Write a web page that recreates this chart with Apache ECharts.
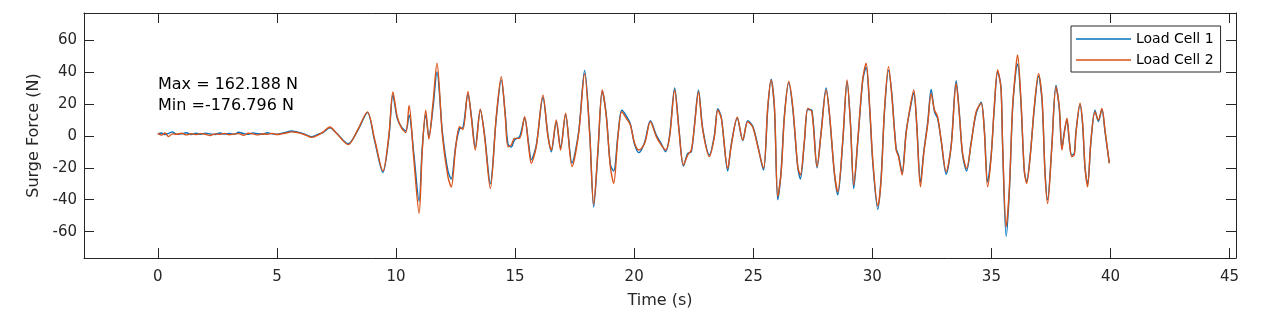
<!DOCTYPE html>
<html>
<head>
<meta charset="utf-8">
<script src="https://cdn.jsdelivr.net/npm/echarts@6/dist/echarts.min.js"></script>
<style>
html,body{margin:0;padding:0;background:#fff;}
#chart{width:1270px;height:320px;}
</style>
</head>
<body>
<div id="chart"></div>
<script>
// Time (s)
const timeS = [
  0,0.15,0.3,0.45,0.6,0.8,1.0,1.2,1.4,1.6,
  1.8,2.0,2.2,2.4,2.6,2.8,3.0,3.2,3.4,3.6,
  3.8,4.0,4.2,4.4,4.6,4.8,5.0,5.2,5.4,5.6,
  5.8,6.0,6.2,6.45,6.7,6.95,7.22,7.5,7.99,8.4,
  8.8,9.1,9.45,9.7,9.87,10.05,10.23,10.41,10.55,10.74,
  10.97,11.1,11.25,11.38,11.55,11.72,11.95,12.18,12.32,12.5,
  12.67,12.81,13.02,13.16,13.33,13.54,13.72,13.96,14.21,14.42,
  14.59,14.70,14.84,14.98,15.19,15.40,15.57,15.68,15.89,16.17,
  16.38,16.52,16.73,16.91,17.12,17.39,17.67,17.92,18.13,18.30,
  18.48,18.66,18.83,19.00,19.14,19.32,19.48,19.67,19.84,20.02,
  20.20,20.44,20.68,20.93,21.14,21.32,21.49,21.70,21.88,22.07,
  22.25,22.40,22.53,22.70,22.88,23.16,23.37,23.51,23.66,23.93,
  24.07,24.33,24.56,24.77,24.98,25.19,25.43,25.61,25.75,25.89,
  26.03,26.17,26.31,26.49,26.66,26.87,26.98,27.15,27.29,27.46,
  27.68,27.85,28.06,28.20,28.41,28.55,28.76,28.94,29.08,29.22,
  29.39,29.60,29.74,29.88,30.02,30.23,30.37,30.51,30.68,30.81,
  31.00,31.10,31.25,31.42,31.59,31.74,31.86,32.02,32.16,32.33,
  32.47,32.61,32.74,32.89,33.10,33.31,33.52,33.65,33.79,33.96,
  34.15,34.36,34.57,34.70,34.84,34.99,35.12,35.26,35.40,35.47,
  35.62,35.75,35.89,36.03,36.10,36.24,36.38,36.48,36.63,36.80,
  36.98,37.13,37.25,37.36,37.53,37.71,37.85,37.96,38.06,38.17,
  38.27,38.37,38.48,38.55,38.72,38.83,38.93,39.04,39.18,39.35,
  39.49,39.64,39.77,39.95
];

// Load Cell 1 surge force (N)
const loadCell1 = [
  1.0,1.8,0.8,1.5,2.5,0.9,1.2,1.9,0.8,1.6,
  1.0,1.7,1.2,0.8,1.8,1.1,1.5,0.9,2.2,1.4,
  1.0,1.8,1.3,1.0,1.9,1.2,1.0,1.6,2.2,3.0,
  2.6,1.8,0.8,-0.5,0.8,2.2,5.0,1.8,-5.0,3.5,
  14.5,-3,-23,-1,25.5,11,5.5,3,13,-10,
  -41,-8,13,-0.5,17,40,2,-22,-27,-7,
  4.5,5,26,13,-7,16,0.5,-30,11,35,
  13,-5,-7,-2.5,-0.5,11,-5,-15,-6,24,
  0.5,-10,8.5,-7.5,13,-17,2.5,41,3,-44.5,
  -10,28,13,-18,-22,0.5,16,12.5,7.5,-5.5,
  -10.5,-4,9.5,0.5,-5,-10,0.5,30,4.5,-19,
  -11,-10,6.5,28.5,4.5,-12,0.5,17,11.5,-22,
  -6,11,-3,9.5,6,-6,-21.5,17,35.5,17,
  -40,-22,13,33,17,-20,-27,-3.5,16.5,16,
  -20,2.5,30,13,-24,-37,-3.5,34,8.5,-33,
  -3.5,35,43,19,-17,-46,-26,15,41,27.5,
  -8,-12,-23,2.5,17,27,8.5,-29,-10,9,
  29,15,11,-3,-24,-6,34.5,15,-12,-22,
  -4,14,21,4.5,-29,-12,17,40,31,-6,
  -63,-36,17,41,45,21,-22,-28.5,-12,17,
  37.5,21,-22,-40,-8,31.5,17,-8,2.5,10,
  -3.5,-12,-11,2.5,19.5,7,-20,-30,-3.5,16,
  9,16.5,2.5,-17
];

// Load Cell 2 surge force (N)
const loadCell2 = [
  1.5,0.5,1.8,-0.5,1.2,1.0,1.6,0.6,1.3,0.8,
  1.4,1.0,0.2,1.2,0.9,1.5,0.7,1.1,1.4,0.3,
  1.6,1.2,0.6,1.3,1.0,1.5,0.8,1.2,1.8,2.5,
  2.2,1.5,0.5,-1.0,0.3,2.5,5.5,1.6,-5.5,4,
  15,-2,-22,0,27.5,12,5,2,19,-13,
  -48.5,-10,16,-2,20,45.5,0,-25.6,-32,-8,
  5.7,4,27.6,12,-8.9,16.6,-0.5,-33,12,37,
  12,-6.8,-5.8,-1.6,-1.6,12,-6.8,-17.2,-6.8,25.5,
  -0.5,-8.9,9.9,-8.9,14.1,-19.3,1.6,39,1.6,-43,
  -8.9,28.7,12,-19.3,-29.8,-0.5,15.1,11,6.8,-4.7,
  -8.9,-4.7,8.8,-0.5,-5.8,-8.9,-0.5,28.7,3.6,-18.3,
  -12,-8.9,5.7,27.6,3.6,-13,-0.5,16.2,11,-20.4,
  -6.8,11.6,-2.6,8.8,5.3,-6.8,-20.4,18.2,35,18.2,
  -38,-23.5,12,34,18.2,-19.3,-24.5,-2.6,17.2,15.1,
  -19.3,1.6,28.7,14.1,-23.5,-35,-2.6,35,7.8,-30.8,
  -2.6,36,45.4,20.4,-15.2,-44,-27.7,16.2,43.3,26.6,
  -8.9,-13,-24.5,1.6,18.2,28.7,7.8,-31.9,-11,7.8,
  26.6,16.2,12,-2.6,-22.5,-6.8,32.9,14.1,-11,-20.4,
  -4.7,15.1,20.4,3.6,-31.9,-13,18.2,41.2,30,-5,
  -57,-33.9,18.2,43.3,50.6,22.4,-21.4,-29.8,-13,18.2,
  39.1,22.4,-23.5,-42.3,-8.9,30.8,18.2,-8.9,1.6,11,
  -2.6,-13,-12,1.6,20.4,7.8,-19.3,-31.9,-2.6,15.1,
  9.9,17.2,3.6,-17.2
];

const xTicks = [0,5,10,15,20,25,30,35,40,45];
const yTicks = [-60,-40,-20,0,20,40,60];
const seriesNames = ['Load Cell 1','Load Cell 2'];
const annotationLines = ['Max = 162.188 N','Min =-176.796 N'];

const FONT = '"DejaVu Sans", sans-serif';
const AX = '#262626';
const C1 = '#0072BD';
const C2 = '#D95319';

function pairs(vals){ return timeS.map((t,i)=>[t, vals[i]]); }

const chart = echarts.init(document.getElementById('chart'), null, {renderer:'canvas'});

const xBase = {
  type:'value', min:-3.1, max:45.27,
  axisLine:{show:true, onZero:false, lineStyle:{color:AX, width:1}},
  splitLine:{show:false}
};
const yBase = {
  type:'value', min:-76.5, max:76.9,
  axisLine:{show:true, onZero:false, lineStyle:{color:AX, width:1}},
  splitLine:{show:false}
};

chart.setOption({
  animation:false,
  backgroundColor:'#fff',
  grid:{left:84, right:34, top:13, bottom:62, containLabel:false},
  xAxis:[
    Object.assign({}, xBase, {
      position:'bottom',
      name:'Time (s)', nameLocation:'middle', nameGap:35,
      nameTextStyle:{fontFamily:FONT, fontSize:16, color:AX},
      axisTick:{show:true, inside:true, length:10, customValues:xTicks, lineStyle:{color:AX}},
      axisLabel:{show:true, customValues:xTicks, margin:12, fontFamily:FONT, fontSize:15, color:AX}
    }),
    Object.assign({}, xBase, {
      position:'top',
      axisTick:{show:true, inside:true, length:10, customValues:xTicks, lineStyle:{color:AX}},
      axisLabel:{show:false}
    })
  ],
  yAxis:[
    Object.assign({}, yBase, {
      position:'left',
      name:'Surge Force (N)', nameLocation:'middle', nameGap:42, nameRotate:90,
      nameTextStyle:{fontFamily:FONT, fontSize:16, color:AX},
      axisTick:{show:true, inside:true, length:10, customValues:yTicks, lineStyle:{color:AX}},
      axisLabel:{show:true, customValues:yTicks, margin:7, fontFamily:FONT, fontSize:15, color:AX}
    }),
    Object.assign({}, yBase, {
      position:'right',
      axisTick:{show:true, inside:true, length:10, customValues:yTicks, lineStyle:{color:AX}},
      axisLabel:{show:false}
    })
  ],
  legend:{
    orient:'vertical', left:1071, top:26,
    data:[
      {name:seriesNames[0], icon:'rect', itemStyle:{color:C1}},
      {name:seriesNames[1], icon:'rect', itemStyle:{color:C2}}
    ],
    itemWidth:55, itemHeight:1.5, itemGap:7,
    padding:[6,7,5,5],
    backgroundColor:'#fff', borderColor:AX, borderWidth:1, borderRadius:0,
    textStyle:{fontFamily:FONT, fontSize:14, color:'#000', lineHeight:14, height:14}
  },
  graphic:[
    {type:'text', x:158, y:85, style:{text:annotationLines[0], font:'16px '+FONT, fill:'#000', verticalAlign:'middle', align:'left'}},
    {type:'text', x:158, y:106, style:{text:annotationLines[1], font:'16px '+FONT, fill:'#000', verticalAlign:'middle', align:'left'}}
  ],
  series:[
    {name:seriesNames[0], type:'line', data:pairs(loadCell1), symbol:'none', smooth:0.3,
     lineStyle:{color:C1, width:1.4}, itemStyle:{color:C1}},
    {name:seriesNames[1], type:'line', data:pairs(loadCell2), symbol:'none', smooth:0.3,
     lineStyle:{color:C2, width:1.4}, itemStyle:{color:C2}}
  ]
});
</script>
</body>
</html>
